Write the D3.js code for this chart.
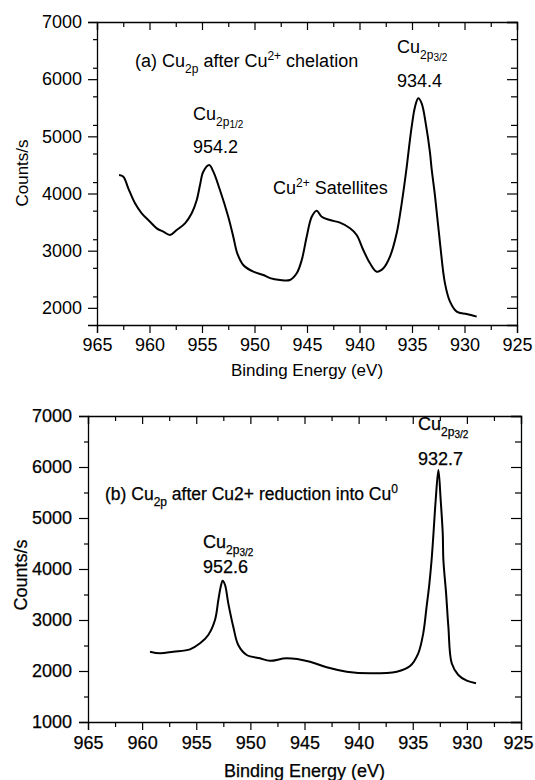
<!DOCTYPE html>
<html>
<head>
<meta charset="utf-8">
<script src="https://cdn.jsdelivr.net/npm/d3@7/dist/d3.min.js"></script>
<style>
  html, body { margin: 0; padding: 0; background: #fff; }
  svg text { font-family: "Liberation Sans", Arial, sans-serif; fill: #000; }
</style>
</head>
<body>
<svg id="chart" width="535" height="780"></svg>
<script>
// ---------- data ----------
const xTicks = [965, 960, 955, 950, 945, 940, 935, 930, 925];
const topYTicks = [2000, 3000, 4000, 5000, 6000, 7000];
const bottomYTicks = [1000, 2000, 3000, 4000, 5000, 6000, 7000];

// (a) Cu2p after Cu2+ chelation
const topEnergy = [962.90, 962.49, 962.02, 961.38, 960.74, 959.95, 959.31, 958.69, 958.05, 957.41,
  956.62, 955.98, 955.50, 955.19, 954.88, 954.31, 953.92, 953.29, 952.50, 952.02,
  951.64, 951.07, 950.11, 949.16, 948.52, 947.57, 946.62, 945.98, 945.50, 945.03,
  944.55, 944.08, 943.60, 942.81, 941.86, 940.90, 940.27, 939.64, 939.00, 938.36,
  937.73, 937.10, 936.46, 935.98, 935.50, 935.35, 935.03, 934.71, 934.40, 934.08,
  933.67, 933.29, 933.13, 932.81, 932.33, 931.86, 931.38, 930.74, 929.79, 928.84];
const topCounts = [4324, 4294, 4091, 3829, 3654, 3507, 3391, 3333, 3274, 3362,
  3478, 3654, 3886, 4149, 4382, 4499, 4382, 4061, 3594, 3245,
  2954, 2750, 2633, 2575, 2520, 2487, 2487, 2604, 2837, 3245,
  3594, 3700, 3594, 3536, 3490, 3391, 3274, 3012, 2779, 2633,
  2692, 2896, 3304, 3829, 4470, 4703, 5169, 5519, 5665, 5578,
  5200, 4720, 4430, 3960, 3129, 2429, 2108, 1933, 1892, 1846];

// (b) Cu2p after Cu2+ reduction into Cu0
const bottomEnergy = [959.27, 958.35, 957.12, 955.58, 954.65, 953.89, 953.27, 952.96, 952.74, 952.56,
  952.34, 952.04, 951.58, 951.12, 950.34, 949.11, 948.19, 946.65, 944.49, 942.95,
  941.10, 938.95, 936.48, 935.25, 934.49, 934.03, 933.72, 933.47, 933.26, 933.10,
  932.88, 932.63, 932.42, 932.23, 932.17, 931.92, 931.71, 931.40, 930.79, 930.01, 929.16];
const bottomCounts = [2378, 2347, 2378, 2425, 2543, 2706, 3000, 3392, 3653, 3771,
  3686, 3327, 2869, 2510, 2314, 2249, 2200, 2249, 2183, 2072,
  1987, 1954, 1987, 2098, 2347, 2739, 3261, 3700, 4176, 4650,
  5353, 5941, 5353, 4700, 4176, 3523, 2869, 2151, 1922, 1810, 1759];

// annotation texts: [text, level] where level 0=normal, 1=sub, 2=subsub, 3=sup
const topAnnotations = [
  {x: 135, y: 67, fs: 18, parts: [["(a) Cu",0],["2p",1],[" after Cu",0],["2+",3],[" chelation",0]]},
  {x: 397, y: 53, fs: 18, parts: [["Cu",0],["2p",1],["3/2",2]]},
  {x: 397, y: 87, fs: 18, parts: [["934.4",0]]},
  {x: 193, y: 120, fs: 18, parts: [["Cu",0],["2p",1],["1/2",2]]},
  {x: 193, y: 153, fs: 18, parts: [["954.2",0]]},
  {x: 273, y: 194, fs: 18, parts: [["Cu",0],["2+",3],[" Satellites",0]]}
];
const bottomAnnotations = [
  {x: 105, y: 500, fs: 17.5, parts: [["(b) Cu",0],["2p",1],[" after Cu2+ reduction into Cu",0],["0",3]]},
  {x: 418, y: 430, fs: 18, parts: [["Cu",0],["2p",1],["3/2",2]]},
  {x: 418, y: 465, fs: 18, parts: [["932.7",0]]},
  {x: 203, y: 548, fs: 18, parts: [["Cu",0],["2p",1],["3/2",2]]},
  {x: 203, y: 573, fs: 18, parts: [["952.6",0]]}
];

// ---------- drawing ----------
const svg = d3.select("#chart");

function drawPanel(cfg) {
  const x = d3.scaleLinear().domain([965, 925]).range([cfg.left, cfg.right]);
  const y = d3.scaleLinear().domain(cfg.yDomain).range([cfg.bottom, cfg.top]);
  const g = svg.append("g");

  const xMinor = d3.range(965, 924, -2.5).filter(v => !xTicks.includes(v));
  const yMinor = d3.range(cfg.yDomain[0], 7001, 500).filter(v => !cfg.yTicks.includes(v) && v > cfg.yDomain[0]);

  // bottom axis (outward)
  const xAx = g.append("g").attr("transform", `translate(0,${cfg.bottom})`)
    .call(d3.axisBottom(x).tickValues(xTicks).tickFormat(d3.format("d")).tickSize(8).tickPadding(cfg.xPad));
  g.append("g").attr("transform", `translate(0,${cfg.bottom})`)
    .call(d3.axisBottom(x).tickValues(xMinor).tickFormat("").tickSize(5))
    .select(".domain").remove();
  // top axis (inward)
  g.append("g").attr("transform", `translate(0,${cfg.top})`)
    .call(d3.axisBottom(x).tickValues(xTicks).tickFormat("").tickSize(8));
  g.append("g").attr("transform", `translate(0,${cfg.top})`)
    .call(d3.axisBottom(x).tickValues(xMinor).tickFormat("").tickSize(5))
    .select(".domain").remove();
  // left axis (outward)
  g.append("g").attr("transform", `translate(${cfg.left},0)`)
    .call(d3.axisLeft(y).tickValues(cfg.yTicks).tickFormat(d3.format("d")).tickSize(9).tickPadding(cfg.yPad));
  g.append("g").attr("transform", `translate(${cfg.left},0)`)
    .call(d3.axisLeft(y).tickValues(yMinor).tickFormat("").tickSize(4))
    .select(".domain").remove();
  // right axis (inward)
  g.append("g").attr("transform", `translate(${cfg.right},0)`)
    .call(d3.axisLeft(y).tickValues(cfg.yTicks).tickFormat("").tickSize(10));
  g.append("g").attr("transform", `translate(${cfg.right},0)`)
    .call(d3.axisLeft(y).tickValues(yMinor).tickFormat("").tickSize(6))
    .select(".domain").remove();

  g.selectAll(".domain").attr("stroke", "#000").attr("stroke-width", 1.3);
  g.selectAll(".tick line").attr("stroke", "#000").attr("stroke-width", 1.2);
  g.selectAll(".tick text").attr("font-family", "Liberation Sans, Arial, sans-serif")
    .attr("font-size", 18).attr("fill", "#000");

  // keep the last x label inside the page
  xAx.selectAll(".tick").filter(d => d === 925).select("text")
    .attr("text-anchor", "end").attr("x", Math.min(15, 533 - cfg.right));

  // axis titles
  g.append("text").attr("x", (cfg.left + cfg.right) / 2).attr("y", cfg.xTitleY)
    .attr("text-anchor", "middle").attr("font-size", cfg.titleFs).text("Binding Energy (eV)");
  g.append("text").attr("transform", `translate(${cfg.yTitleX},${cfg.yTitleCy}) rotate(-90)`)
    .attr("text-anchor", "middle").attr("font-size", cfg.titleFs).text("Counts/s");

  // curve
  const pts = cfg.energy.map((e, i) => [e, cfg.counts[i]]);
  g.append("path").datum(pts)
    .attr("fill", "none").attr("stroke", "#000").attr("stroke-width", 2)
    .attr("stroke-linejoin", "round")
    .attr("d", d3.line().x(d => x(d[0])).y(d => y(d[1])).curve(d3.curveCatmullRom.alpha(0.5)));

  // annotations
  cfg.annotations.forEach(a => {
    const t = g.append("text").attr("x", a.x).attr("y", a.y).attr("font-size", a.fs);
    let cur = 0;
    a.parts.forEach(([txt, lvl]) => {
      let target, fs;
      if (lvl === 0) { target = 0; fs = a.fs; }
      else if (lvl === 1) { target = 6; fs = 12; }
      else if (lvl === 2) { target = 8; fs = 10; }
      else { target = -7; fs = 12; }
      t.append("tspan").attr("dy", target - cur).attr("font-size", fs).text(txt);
      cur = target;
    });
  });

  if (cfg.heavy) {
    g.selectAll("text").attr("stroke", "#000").attr("stroke-width", 0.25);
  }
}

drawPanel({
  left: 97, right: 517, top: 22, bottom: 325,
  yDomain: [1700, 7000], yTicks: topYTicks,
  xPad: 5, yPad: 6, titleFs: 17,
  xTitleY: 376, yTitleX: 28, yTitleCy: 173,
  energy: topEnergy, counts: topCounts, annotations: topAnnotations, heavy: false
});

drawPanel({
  left: 88, right: 521, top: 416, bottom: 722,
  yDomain: [1000, 7000], yTicks: bottomYTicks,
  xPad: 6, yPad: 7, titleFs: 18,
  xTitleY: 777, yTitleX: 27, yTitleCy: 575,
  energy: bottomEnergy, counts: bottomCounts, annotations: bottomAnnotations, heavy: true
});
</script>
</body>
</html>
